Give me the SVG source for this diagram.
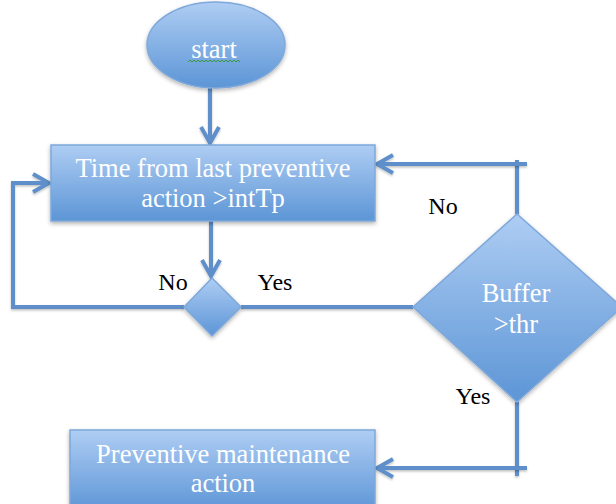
<svg xmlns="http://www.w3.org/2000/svg" width="616" height="504" viewBox="0 0 616 504">
<style>
.box{stroke:#7ea8da;stroke-width:1.5;filter:url(#sh)}
.wt{font-family:"Liberation Serif","Times New Roman",serif;font-size:26.5px;fill:#ffffff;text-anchor:middle}
.lb{font-family:"Liberation Serif","Times New Roman",serif;font-size:24px;fill:#000000;text-anchor:middle}
.con{fill:none;stroke:#5f8fca;stroke-width:4;stroke-linecap:butt;filter:url(#lsh)}
</style>
<defs>
<linearGradient id="g" x1="0" y1="0" x2="0" y2="1">
<stop offset="0" stop-color="#aecdf3"/>
<stop offset="1" stop-color="#5c95d6"/>
</linearGradient>
<filter id="sh" x="-10%" y="-10%" width="120%" height="130%">
<feDropShadow dx="0" dy="2" stdDeviation="2" flood-color="#000" flood-opacity="0.3"/>
</filter>
<filter id="lsh" filterUnits="userSpaceOnUse" x="0" y="0" width="616" height="504">
<feDropShadow dx="0" dy="1.5" stdDeviation="1" flood-color="#000" flood-opacity="0.25"/>
</filter>
<marker id="ah" markerUnits="userSpaceOnUse" markerWidth="24" markerHeight="24" viewBox="0 0 24 24" refX="20" refY="12" orient="auto">
<path d="M4,3 L20,12 L4,21" fill="none" stroke="#5f8fca" stroke-width="4" stroke-linejoin="miter"/>
</marker>
</defs>

<g id="connectors">
<path class="con" d="M210,88 V143" marker-end="url(#ah)"/>
<path class="con" d="M211,221 V276" marker-end="url(#ah)"/>
<path class="con" d="M184,307 H13 V183 H49" marker-end="url(#ah)"/>
<path class="con" d="M241,307 H413"/>
<path class="con" d="M517,214 V160"/>
<path class="con" d="M527,164 H377" marker-end="url(#ah)"/>
<path class="con" d="M517,402 V476"/>
<path class="con" d="M527,468 H377" marker-end="url(#ah)"/>
</g>

<g id="start">
<ellipse class="box" cx="216" cy="45" rx="69" ry="43" fill="url(#g)"/>
<text class="wt" x="214" y="58" font-size="28">start</text>
<path d="M188,62 l2,-2 l2,2 l2,-2 l2,2 l2,-2 l2,2 l2,-2 l2,2 l2,-2 l2,2 l2,-2 l2,2 l2,-2 l2,2 l2,-2 l2,2 l2,-2 l2,2 l2,-2 l2,2 l2,-2 l2,2 l2,-2 l2,2 l2,-2 l2,2" fill="none" stroke="#3a9a3a" stroke-width="1"/>
</g>

<g id="check-time">
<rect class="box" x="51" y="145" width="324" height="76" fill="url(#g)"/>
<text class="wt" x="213" y="177">Time from last preventive</text>
<text class="wt" x="213" y="207">action &gt;intTp</text>
</g>

<g id="decision-time">
<polygon class="box" points="212,278 241,307 212,336 184,307" fill="url(#g)"/>
</g>

<g id="buffer">
<polygon class="box" points="517,214 622,307 517,402 413,307" fill="url(#g)"/>
<text class="wt" x="516" y="302">Buffer</text>
<text class="wt" x="516" y="333">&gt;thr</text>
</g>

<g id="maintenance">
<rect class="box" x="70" y="430" width="305" height="82" fill="url(#g)"/>
<text class="wt" x="223" y="463">Preventive maintenance</text>
<text class="wt" x="223" y="492">action</text>
</g>

<g id="labels">
<text class="lb" x="173" y="290">No</text>
<text class="lb" x="275" y="290">Yes</text>
<text class="lb" x="443" y="214">No</text>
<text class="lb" x="473" y="404">Yes</text>
</g>
</svg>
